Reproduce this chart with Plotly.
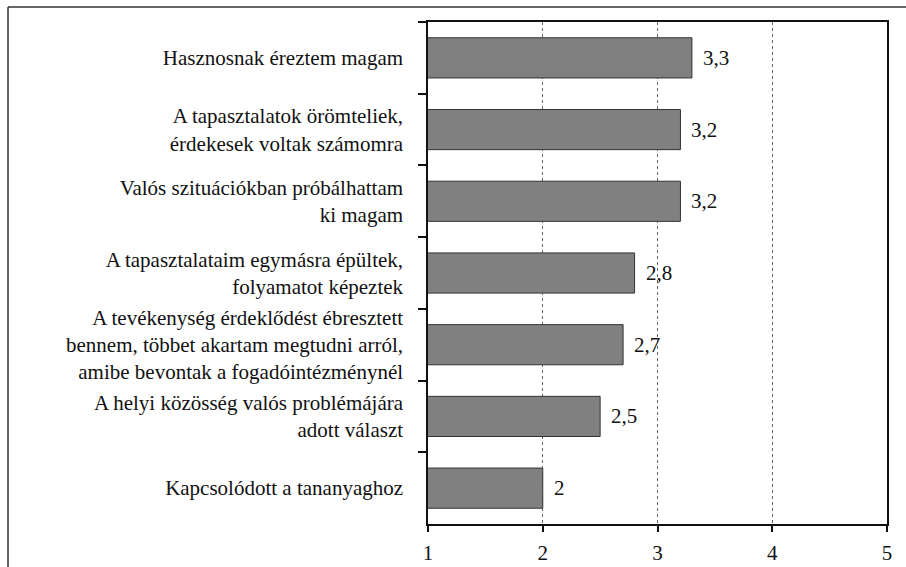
import plotly.graph_objects as go

categories = [
    "Hasznosnak éreztem magam",
    "A tapasztalatok örömteliek,<br>érdekesek voltak számomra",
    "Valós szituációkban próbálhattam<br>ki magam",
    "A tapasztalataim egymásra épültek,<br>folyamatot képeztek",
    "A tevékenység érdeklődést ébresztett<br>bennem, többet akartam megtudni arról,<br>amibe bevontak a fogadóintézménynél",
    "A helyi közösség valós problémájára<br>adott választ",
    "Kapcsolódott a tananyaghoz",
]
values = [3.3, 3.2, 3.2, 2.8, 2.7, 2.5, 2.0]
x_ticks = [1, 2, 3, 4, 5]

FONT = "'Liberation Serif', 'Times New Roman', Times, serif"
FS = 21

fig = go.Figure()
fig.add_trace(go.Bar(
    y=categories,
    x=values,
    orientation="h",
    marker=dict(color="#808080", line=dict(color="#333333", width=1)),
    hoverinfo="x+y",
))

for c, v in zip(categories, values):
    fig.add_annotation(
        x=v, y=c, xref="x", yref="y",
        text=f"{v:g}".replace(".", ","),
        showarrow=False, xanchor="left", xshift=9,
        font=dict(family=FONT, size=FS, color="#111111"),
    )

# outer frame (top and left)
fig.add_shape(type="line", xref="paper", yref="paper",
              x0=-0.915, y0=1.0299, x1=1.1, y1=1.0299,
              line=dict(color="#333333", width=1.5))
fig.add_shape(type="line", xref="paper", yref="paper",
              x0=-0.915, y0=1.0299, x1=-0.915, y1=-0.2,
              line=dict(color="#333333", width=1.5))

fig.update_layout(
    width=906, height=567,
    margin=dict(l=428, r=19, t=22, b=43),
    paper_bgcolor="white", plot_bgcolor="white",
    bargap=0.44,
    showlegend=False,
    font=dict(family=FONT, size=FS, color="#111111"),
    separators=", ",
)
fig.update_xaxes(
    range=[1, 5], tickvals=x_ticks,
    ticks="outside", ticklen=6, tickcolor="#111111", tickwidth=1.5,
    showline=True, linecolor="#111111", linewidth=1.5, mirror=True,
    showgrid=True, gridcolor="#666666", gridwidth=1, griddash="dot",
    zeroline=False, automargin=False,
    ticklabelstandoff=3,
    tickfont=dict(family=FONT, size=FS, color="#111111"),
)
fig.update_yaxes(
    categoryorder="array", categoryarray=categories, autorange="reversed",
    ticks="outside", tickson="boundaries", ticklen=8, tickcolor="#111111", tickwidth=1.5,
    showline=True, linecolor="#111111", linewidth=1.5, mirror=True,
    showgrid=False, zeroline=False, automargin=False,
    ticklabelstandoff=19,
    tickfont=dict(family=FONT, size=FS, color="#111111"),
)

fig.write_html("out.html", config={"displayModeBar": False},
               post_script="document.body.style.margin='0';")
